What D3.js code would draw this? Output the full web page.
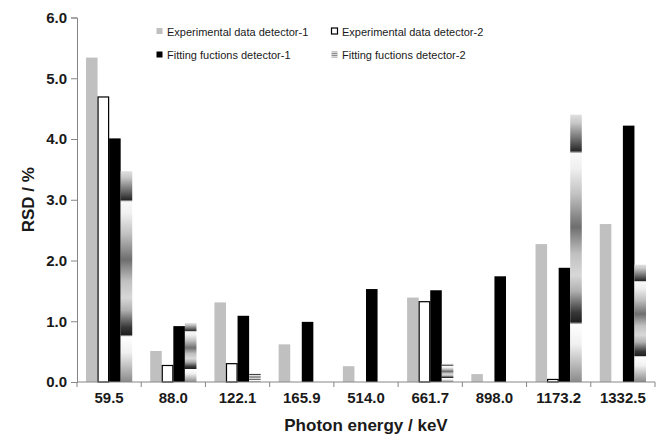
<!DOCTYPE html>
<html>
<head>
<meta charset="utf-8">
<script src="https://cdn.jsdelivr.net/npm/d3@7"></script>
<style>
  html, body { margin: 0; padding: 0; background: #fff; }
  svg { display: block; }
  text { font-family: "Liberation Sans", Arial, sans-serif; }
</style>
</head>
<body>
<svg id="chart" width="665" height="441"></svg>
<script>
const categories = ["59.5", "88.0", "122.1", "165.9", "514.0", "661.7", "898.0", "1173.2", "1332.5"];
const seriesNames = ["Experimental data detector-1", "Experimental data detector-2", "Fitting fuctions detector-1", "Fitting fuctions detector-2"];
const expDet1 = [5.34, 0.51, 1.31, 0.62, 0.26, 1.39, 0.13, 2.27, 2.60];
const expDet2 = [4.70, 0.28, 0.31, 0, 0, 1.33, 0, 0.05, 0];
const fitDet1 = [4.01, 0.92, 1.09, 0.99, 1.53, 1.51, 1.74, 1.88, 4.22];
const fitDet2 = [3.47, 0.97, 0.14, 0, 0, 0.30, 0, 4.40, 1.93];
const yTicks = [0, 1, 2, 3, 4, 5, 6];

const seriesValues = [expDet1, expDet2, fitDet1, fitDet2];

const svg = d3.select("#chart");
const mLeft = 77, mRight = 655, mTop = 17.5, mBottom = 382;

const defs = svg.append("defs");
const grad = defs.append("linearGradient").attr("id", "fitGrad")
  .attr("x1", 0).attr("y1", 0).attr("x2", 0).attr("y2", 1);
[[0, "#e0e0e0"], [0.03, "#c8c8c8"], [0.10, "#606060"], [0.135, "#282828"], [0.145, "#f8f8f8"],
 [0.20, "#f0f0f0"], [0.30, "#c0c0c0"], [0.42, "#6e6e6e"], [0.52, "#c0c0c0"], [0.60, "#d8d8d8"],
 [0.66, "#b0b0b0"], [0.74, "#383838"], [0.775, "#202020"], [0.785, "#ffffff"], [0.86, "#f0f0f0"], [1, "#8a8a8a"]]
  .forEach(([o, c]) => grad.append("stop").attr("offset", o).attr("stop-color", c));

const pat = defs.append("pattern").attr("id", "stripes").attr("patternUnits", "userSpaceOnUse")
  .attr("width", 4).attr("height", 2);
pat.append("rect").attr("width", 4).attr("height", 2).attr("fill", "#d8d8d8");
pat.append("rect").attr("width", 4).attr("height", 1).attr("fill", "#8c8c8c");

const x0 = d3.scaleBand().domain(categories).range([mLeft, mRight]).padding(0);
const bw = x0.bandwidth();
const x1 = d3.scaleBand().domain(seriesNames).range([bw * 0.14, bw * 0.86]).padding(0);
const y = d3.scaleLinear().domain([0, 6]).range([mBottom, mTop]);

const fills = ["#c0c0c0", "#ffffff", "#000000", "url(#fitGrad)"];
const strokes = ["none", "#000000", "none", "none"];

const barData = [];
seriesNames.forEach((s, si) => {
  categories.forEach((c, ci) => {
    const v = seriesValues[si][ci];
    if (v > 0) barData.push({ s, si, c, v });
  });
});

svg.append("g").selectAll("rect").data(barData).join("rect")
  .attr("x", d => x0(d.c) + x1(d.s) + (d.si === 1 ? 0.5 : 0))
  .attr("y", d => y(d.v) + (d.si === 1 ? 0.5 : 0))
  .attr("width", d => x1.bandwidth() - (d.si === 1 ? 1 : 0))
  .attr("height", d => y(0) - y(d.v) - (d.si === 1 ? 0.5 : 0))
  .attr("fill", d => fills[d.si])
  .attr("stroke", d => strokes[d.si])
  .attr("stroke-width", 1.2);

// Y axis
const yAxis = d3.axisLeft(y).tickValues(yTicks).tickFormat(d3.format(".1f")).tickSize(6).tickPadding(4);
const gy = svg.append("g").attr("transform", `translate(${mLeft},0)`).call(yAxis);
gy.select(".domain").attr("stroke", "#868686");
gy.selectAll(".tick line").attr("stroke", "#868686");
gy.selectAll(".tick text").attr("fill", "#1a1a1a").style("font-size", "15px").style("font-weight", "bold")
  .style("font-family", "'Liberation Sans', Arial, sans-serif");

// X axis with ticks at category boundaries
const gx = svg.append("g").attr("transform", `translate(0,${mBottom})`);
gx.append("line").attr("x1", mLeft).attr("x2", mRight).attr("y1", 0).attr("y2", 0).attr("stroke", "#868686");
const bounds = categories.map(c => x0(c)).concat([mRight]);
gx.selectAll("line.tk").data(bounds).join("line").attr("class", "tk")
  .attr("x1", d => d).attr("x2", d => d).attr("y1", 0).attr("y2", 5).attr("stroke", "#868686");
gx.selectAll("text").data(categories).join("text")
  .attr("x", d => x0(d) + bw / 2).attr("y", 21)
  .attr("text-anchor", "middle").attr("fill", "#1a1a1a")
  .style("font-size", "15px").style("font-weight", "bold").text(d => d);

// Axis titles
svg.append("text").attr("x", (mLeft + mRight) / 2).attr("y", 431).attr("text-anchor", "middle")
  .attr("fill", "#1a1a1a").style("font-size", "17px").style("font-weight", "bold").text("Photon energy / keV");
svg.append("text").attr("transform", `translate(34,${(mTop + mBottom) / 2}) rotate(-90)`).attr("text-anchor", "middle")
  .attr("fill", "#1a1a1a").style("font-size", "17px").style("font-weight", "bold").text("RSD / %");

// Legend
const legPos = [[156, 31.5], [331, 31.5], [156, 55], [331, 55]];
const legFill = ["#c0c0c0", "#ffffff", "#000000", "url(#stripes)"];
const lg = svg.append("g").selectAll("g").data(seriesNames).join("g")
  .attr("transform", (d, i) => `translate(${legPos[i][0]},${legPos[i][1]})`);
lg.append("rect").attr("x", 0.5).attr("y", -3.5).attr("width", 6).attr("height", 6)
  .attr("fill", (d, i) => legFill[i])
  .attr("stroke", (d, i) => i === 1 ? "#000" : "none").attr("stroke-width", 1.2);
lg.append("text").attr("x", 11).attr("y", 4).attr("fill", "#1a1a1a").style("font-size", "11px").text(d => d);
</script>
</body>
</html>
